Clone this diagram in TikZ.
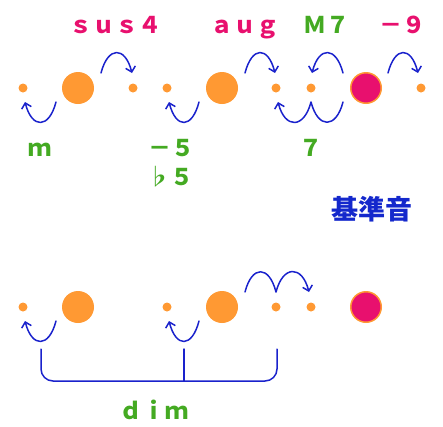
\documentclass[tikz,border=0pt]{standalone}
\usepackage{fontspec}
\usepackage{tikz}
\usetikzlibrary{arrows.meta}
\newfontfamily\jpfont{Noto Sans CJK JP}
\definecolor{notecol}{HTML}{FF9933}
\definecolor{rootcol}{HTML}{E8106E}
\definecolor{arccol}{HTML}{1A22CC}
\definecolor{lowcol}{HTML}{44AA22}
\definecolor{basecol}{HTML}{1428CC}
\begin{document}
\begin{tikzpicture}[x=1pt,y=-1pt,line cap=round,line join=round,>={Straight Barb[length=5pt,width=10pt]},
  dot/.style={circle,fill=notecol,inner sep=0pt,minimum size=9pt},
  note/.style={circle,fill=notecol,inner sep=0pt,minimum size=32pt},
  root/.style={circle,fill=rootcol,draw=notecol,line width=1.5pt,inner sep=0pt,minimum size=30.5pt},
  hop/.style={->,draw=arccol,line width=1.5pt},
  brace/.style={draw=arccol,line width=1.5pt,rounded corners=12pt},
  lbl/.style={font=\jpfont\bfseries\fontsize{23}{23}\selectfont,anchor=base,inner sep=0pt}]
\useasboundingbox (0,0) rectangle (443,426);
% upper row
\node[dot] (a1) at (23,88) {};
\node[note] (a2) at (78,88) {};
\node[dot] (a3) at (133,88) {};
\node[dot] (a4) at (167,88) {};
\node[note] (a5) at (222,88) {};
\node[dot] (a6) at (276,88) {};
\node[dot] (a7) at (311,88) {};
\node[root] (a8) at (366,88) {};
\node[dot] (a9) at (421,88) {};
\draw[hop] ([shift={(33,14)}]a1.center) .. controls +(-7,27) and +(7,27) .. ([shift={(2,14)}]a1.center);
\draw[hop] ([shift={(-32,-15)}]a3.center) .. controls +(7,-27) and +(-7,-27) .. ([shift={(-1,-15)}]a3.center);
\draw[hop] ([shift={(32,14)}]a4.center) .. controls +(-7,27) and +(7,27) .. ([shift={(2,14)}]a4.center);
\draw[hop] ([shift={(-31,-15)}]a6.center) .. controls +(7,-27) and +(-7,-27) .. ([shift={(-1,-15)}]a6.center);
\draw[hop] ([shift={(-23,-15)}]a8.center) .. controls +(-7,-27) and +(7,-27) .. ([shift={(1,-15)}]a7.center);
\draw[hop] ([shift={(-23,14)}]a8.center) .. controls +(-7,27) and +(7,27) .. ([shift={(0,14)}]a7.center)
  .. controls +(-7,27) and +(7,27) .. ([shift={(2,14)}]a6.center);
\draw[hop] ([shift={(22,-15)}]a8.center) .. controls +(7,-27) and +(-7,-27) .. ([shift={(-3,-15)}]a9.center);
\node[lbl,text=rootcol] (sus) at (115,33) {ｓｕｓ４};
\node[lbl,text=rootcol] (aug) at (245,33) {ａｕｇ};
\node[lbl,text=lowcol] (maj) at (326,33) {Ｍ７};
\node[lbl,text=rootcol] (nine) at (402,33) {－９};
\node[lbl,text=lowcol] (min) at (40,156) {ｍ};
\node[lbl,text=lowcol] (five) at (171,156) {－５};
\node[lbl,text=lowcol] (flat) at (170,185) {♭５};
\node[lbl,text=lowcol] (sev) at (311,156) {７};
\node[lbl,text=basecol,font=\jpfont\bfseries\fontsize{27}{27}\selectfont] (base) at (372,219) {基準音};
% lower row
\node[dot] (b1) at (23,307) {};
\node[note] (b2) at (78,307) {};
\node[dot] (b3) at (167,307) {};
\node[note] (b4) at (222,307) {};
\node[dot] (b5) at (276,307) {};
\node[dot] (b6) at (311,307) {};
\node[root] (b7) at (366,307) {};
\draw[hop] ([shift={(33,14)}]b1.center) .. controls +(-7,27) and +(7,27) .. ([shift={(2,14)}]b1.center);
\draw[hop] ([shift={(32,14)}]b3.center) .. controls +(-7,27) and +(7,27) .. ([shift={(2,14)}]b3.center);
\draw[hop] ([shift={(-31,-15)}]b5.center) .. controls +(7,-27) and +(-7,-27) .. ([shift={(0,-15)}]b5.center)
  .. controls +(7,-27) and +(-7,-27) .. ([shift={(-2,-15)}]b6.center);
\coordinate (dl) at ([shift={(18,42)}]b1.center);
\coordinate (dm) at ([shift={(17,42)}]b3.center);
\coordinate (dr) at ([shift={(1,42)}]b5.center);
\draw[brace] (dl) -- ++(0,32) -| (dr);
\draw[brace] (dm) -- ++(0,32);
\node[lbl,text=lowcol] (dim) at (154,419) {ｄｉｍ};
\end{tikzpicture}
\end{document}
